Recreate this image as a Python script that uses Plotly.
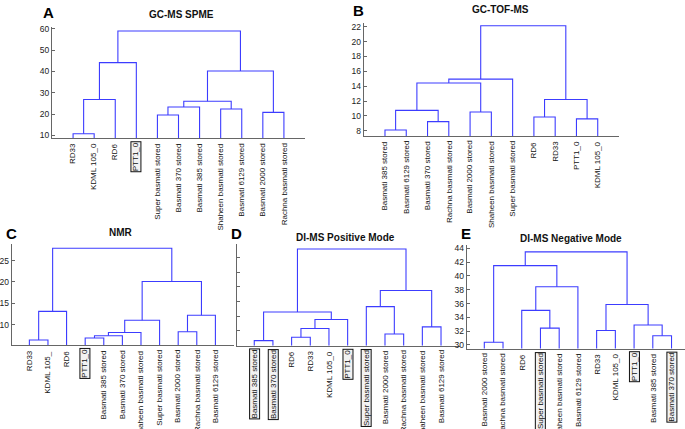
import plotly.graph_objects as go

W, H = 685, 429

# leaf order as shown under each dendrogram
a_leaves = ["RD33", "KDML 105_0", "RD6", "PTT1_0", "Super basmati stored", "Basmati 370 stored",
            "Basmati 385 stored", "Shaheen basmati stored", "Basmati 6129 stored",
            "Basmati 2000 stored", "Rachna basmati stored"]
b_leaves = ["Basmati 385 stored", "Basmati 6129 stored", "Basmati 370 stored", "Rachna basmati stored",
            "Basmati 2000 stored", "Shaheen basmati stored", "Super basmati stored",
            "RD6", "RD33", "PTT1_0", "KDML 105_0"]
c_leaves = ["RD33", "KDML 105_", "RD6", "PTT1_0", "Basmati 385 stored", "Basmati 370 stored",
            "Shaheen basmati stored", "Super basmati stored", "Basmati 2000 stored",
            "Rachna basmati stored", "Basmati 6129 stored"]
d_leaves = ["Basmati 385 stored", "Basmati 370 stored", "RD6", "RD33", "KDML 105_0", "PTT1_0",
            "Super basmati stored", "Basmati 2000 stored", "Rachna basmati stored",
            "Shaheen basmati stored", "Basmati 6129 stored"]
e_leaves = ["Basmati 2000 stored", "Rachna basmati stored", "RD6", "Super basmati stored",
            "Shaheen basmati stored", "Basmati 6129 stored", "RD33", "KDML 105_0", "PTT1_0",
            "Basmati 385 stored", "Basmati 370 stored"]

# merges (left id, right id, height) -- ids 0..10 leaves, 11.. merged clusters
a_merges = [(0, 1, 10.8), (11, 2, 26.8), (12, 3, 44.1), (4, 5, 19.6), (14, 6, 23.3),
            (7, 8, 22.4), (15, 16, 26.0), (9, 10, 20.8), (17, 18, 40.2), (13, 19, 58.9)]
b_merges = [(0, 1, 8.1), (2, 3, 9.23), (11, 12, 10.74), (4, 5, 10.52), (13, 14, 14.42),
            (15, 6, 14.95), (7, 8, 9.86), (9, 10, 9.6), (17, 18, 12.2), (16, 19, 22.13)]
c_merges = [(0, 1, 6.36), (11, 2, 13.09), (3, 4, 6.82), (13, 5, 7.36), (14, 6, 8.14),
            (15, 7, 11.0), (8, 9, 8.3), (17, 10, 12.16), (16, 18, 20.1), (12, 19, 27.9)]
d_merges = [(0, 1, 0.34), (2, 3, 0.57), (12, 4, 1.17), (13, 5, 1.78), (11, 14, 2.29),
            (7, 8, 0.79), (6, 16, 2.66), (9, 10, 1.28), (17, 18, 3.76), (15, 19, 6.59)]
e_merges = [(0, 1, 30.39), (3, 4, 32.44), (2, 12, 35.02), (13, 5, 38.44), (11, 14, 41.5),
            (6, 7, 32.1), (9, 10, 31.33), (8, 17, 32.9), (16, 18, 35.87), (15, 19, 43.5)]

# boxed leaf labels
a_boxed = ["PTT1_0"]
b_boxed = []
c_boxed = ["PTT1_0"]
d_boxed = ["Basmati 385 stored", "Basmati 370 stored", "PTT1_0", "Super basmati stored"]
e_boxed = ["Super basmati stored", "PTT1_0", "Basmati 370 stored"]

a_ticks = [10, 20, 30, 40, 50, 60]
b_ticks = [8, 10, 12, 14, 16, 18, 20, 22]
c_ticks = [10, 15, 20, 25]
d_ticks = [0, 1, 2, 3, 4, 5, 6]
e_ticks = [30, 32, 34, 36, 38, 40, 42, 44]


def dendro_lines(leaves, merges):
    n = len(leaves)
    xs = {i: i + 1 for i in range(n)}
    hs = {i: 0.0 for i in range(n)}
    lx, ly = [], []
    for k, (l, r, h) in enumerate(merges):
        lx += [xs[l], xs[l], xs[r], xs[r], None]
        ly += [hs[l], h, h, hs[r], None]
        xs[n + k] = (xs[l] + xs[r]) / 2
        hs[n + k] = h
    return lx, ly


# panel layout in pixels: x0, x1, y_bottom, y_top, x range, y range, show labels, title pos
panels = [
    dict(leaves=a_leaves, merges=a_merges, boxed=a_boxed, ticks=a_ticks, letter="A",
         title="GC-MS SPME", tpos=(181, 12), lpos=(49, 10),
         px=(52, 305), py=(137, 24), xr=[0, 12], yr=[8.6, 60.93], labels=True),
    dict(leaves=b_leaves, merges=b_merges, boxed=b_boxed, ticks=b_ticks, letter="B",
         title="GC-TOF-MS", tpos=(500, 7), lpos=(358, 8),
         px=(363.7, 619), py=(134.7, 20), xr=[0, 12], yr=[7.28, 22.53], labels=True),
    dict(leaves=c_leaves, merges=c_merges, boxed=c_boxed, ticks=c_ticks, letter="C",
         title="NMR", tpos=(120.5, 232), lpos=(11, 233),
         px=(11.7, 234), py=(346.3, 244.3), xr=[0.05, 12], yr=[5.13, 28.8], labels=True),
    dict(leaves=d_leaves, merges=d_merges, boxed=d_boxed, ticks=d_ticks, letter="D",
         title="DI-MS Positive Mode", tpos=(345.5, 237.5), lpos=(236, 233),
         px=(236.7, 459.7), py=(346.7, 244.3), xr=[0.06, 12], yr=[0, 6.9], labels=False),
    dict(leaves=e_leaves, merges=e_merges, boxed=e_boxed, ticks=e_ticks, letter="E",
         title="DI-MS Negative Mode", tpos=(570.5, 238.5), lpos=(466, 233),
         px=(466.7, 685), py=(349.7, 245), xr=[0.06, 11.72], yr=[29.47, 44.47], labels=True),
]

fig = go.Figure()
layout = {}
annotations = []

for i, p in enumerate(panels):
    sfx = "" if i == 0 else str(i + 1)
    lx, ly = dendro_lines(p["leaves"], p["merges"])
    fig.add_trace(go.Scatter(x=lx, y=ly, mode="lines", xaxis="x" + sfx, yaxis="y" + sfx,
                             line=dict(color="#3c3cff", width=1.1), hoverinfo="skip",
                             showlegend=False))
    layout["xaxis" + sfx] = dict(
        domain=[p["px"][0] / W, p["px"][1] / W], range=p["xr"], anchor="y" + sfx,
        showline=True, linecolor="#666", linewidth=1, showgrid=False, zeroline=False,
        showticklabels=False, ticks="")
    layout["yaxis" + sfx] = dict(
        domain=[1 - p["py"][0] / H, 1 - p["py"][1] / H], range=p["yr"], anchor="x" + sfx,
        showline=True, linecolor="#666", linewidth=1, showgrid=False, zeroline=False,
        tickvals=p["ticks"], ticks="inside", ticklen=3, tickcolor="#666",
        showticklabels=p["labels"], tickfont=dict(family="Arial", size=8.5, color="#222"))
    for j, name in enumerate(p["leaves"]):
        boxed = name in p["boxed"]
        annotations.append(dict(
            x=j + 1, y=0, xref="x" + sfx, yref="y" + sfx + " domain",
            text=name, textangle=-90, showarrow=False, xanchor="center", yanchor="top",
            yshift=-4 if not boxed else -3,
            font=dict(family="Arial", size=8, color="#111"),
            bordercolor="#111" if boxed else "rgba(0,0,0,0)", borderwidth=1, borderpad=0,
            bgcolor="#f2f2f2" if boxed else "rgba(0,0,0,0)"))
    annotations.append(dict(
        x=p["tpos"][0] / W, y=1 - p["tpos"][1] / H, xref="paper", yref="paper",
        text="<b>" + p["title"] + "</b>", showarrow=False, xanchor="center", yanchor="middle",
        font=dict(family="Arial", size=10, color="#111")))
    annotations.append(dict(
        x=p["lpos"][0] / W, y=1 - p["lpos"][1] / H, xref="paper", yref="paper",
        text="<b>" + p["letter"] + "</b>", showarrow=False, xanchor="center", yanchor="middle",
        font=dict(family="Arial", size=15, color="#000")))

fig.update_layout(
    width=W, height=H, margin=dict(l=0, r=0, t=0, b=0),
    paper_bgcolor="white", plot_bgcolor="white",
    annotations=annotations, **layout)

# page body has a default 8px margin; drop it so the figure fills the window
fig.write_html("out.html", config={"displayModeBar": False},
               post_script="document.body.style.margin='0px';")
